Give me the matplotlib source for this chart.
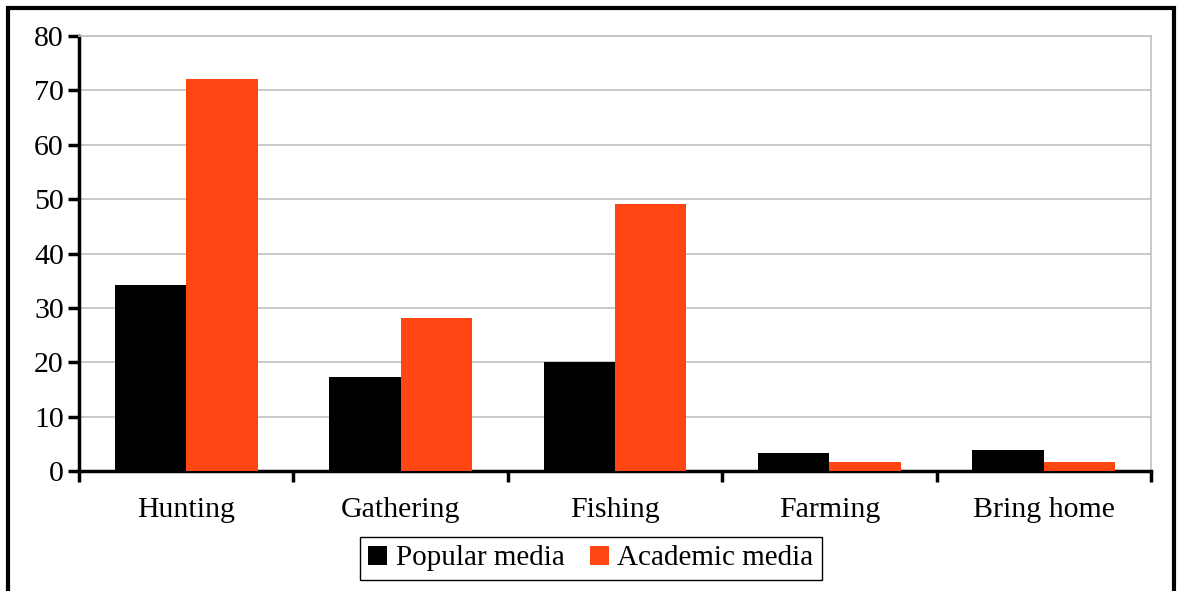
import numpy as np
import matplotlib
matplotlib.use('Agg')
import matplotlib.pyplot as plt
from matplotlib.patches import Rectangle

plt.rcParams['font.family'] = ['Liberation Serif', 'DejaVu Serif']

# share of mentions per activity
categories = ['Hunting', 'Gathering', 'Fishing', 'Farming', 'Bring home']
popular = [34.2, 17.3, 20.0, 3.4, 3.8]
academic = [72.0, 28.1, 49.1, 1.7, 1.7]
yticks = [0, 10, 20, 30, 40, 50, 60, 70, 80]

fig = plt.figure(figsize=(11.78, 5.91), dpi=100)
ax = fig.add_axes([0.0671, 0.2030, 0.9100, 0.7361])

x = np.arange(len(categories))
w = 0.333
ax.bar(x - w / 2, popular, w, color='black', label='Popular media', zorder=3)
ax.bar(x + w / 2, academic, w, color='#FF4511', label='Academic media', zorder=3)

ax.set_xlim(-0.5, len(categories) - 0.5)
ax.set_ylim(0, 80)
ax.set_yticks(yticks)
ax.yaxis.grid(True, color='#c0c0c0', lw=1.2, zorder=0)

ax.set_xticks(x)
ax.set_xticklabels(categories)
ax.set_xticks(np.arange(len(categories) + 1) - 0.5, minor=True)
ax.tick_params(axis='x', which='major', length=0, pad=19, labelsize=21.5)
ax.tick_params(axis='x', which='minor', length=8, width=2.5, direction='out')
ax.tick_params(axis='y', length=8, width=2.5, direction='out', labelsize=21.5, pad=3)

for s in ['left', 'bottom']:
    ax.spines[s].set_linewidth(2.5)
for s in ['top', 'right']:
    ax.spines[s].set_color('#c0c0c0')
    ax.spines[s].set_linewidth(1.2)

fig.legend(loc='center', bbox_to_anchor=(0.5017, 0.055), ncol=2, fontsize=21,
           frameon=True, fancybox=False, edgecolor='black', framealpha=1,
           handlelength=0.65, handleheight=0.65, handletextpad=0.3,
           columnspacing=0.85, borderpad=0.3)

# outer frame
fig.patches.append(Rectangle((0.0068, -0.05), 0.9898, 1.0365, transform=fig.transFigure,
                             fill=False, edgecolor='black', lw=3))

fig.savefig('out.png', dpi=100)
